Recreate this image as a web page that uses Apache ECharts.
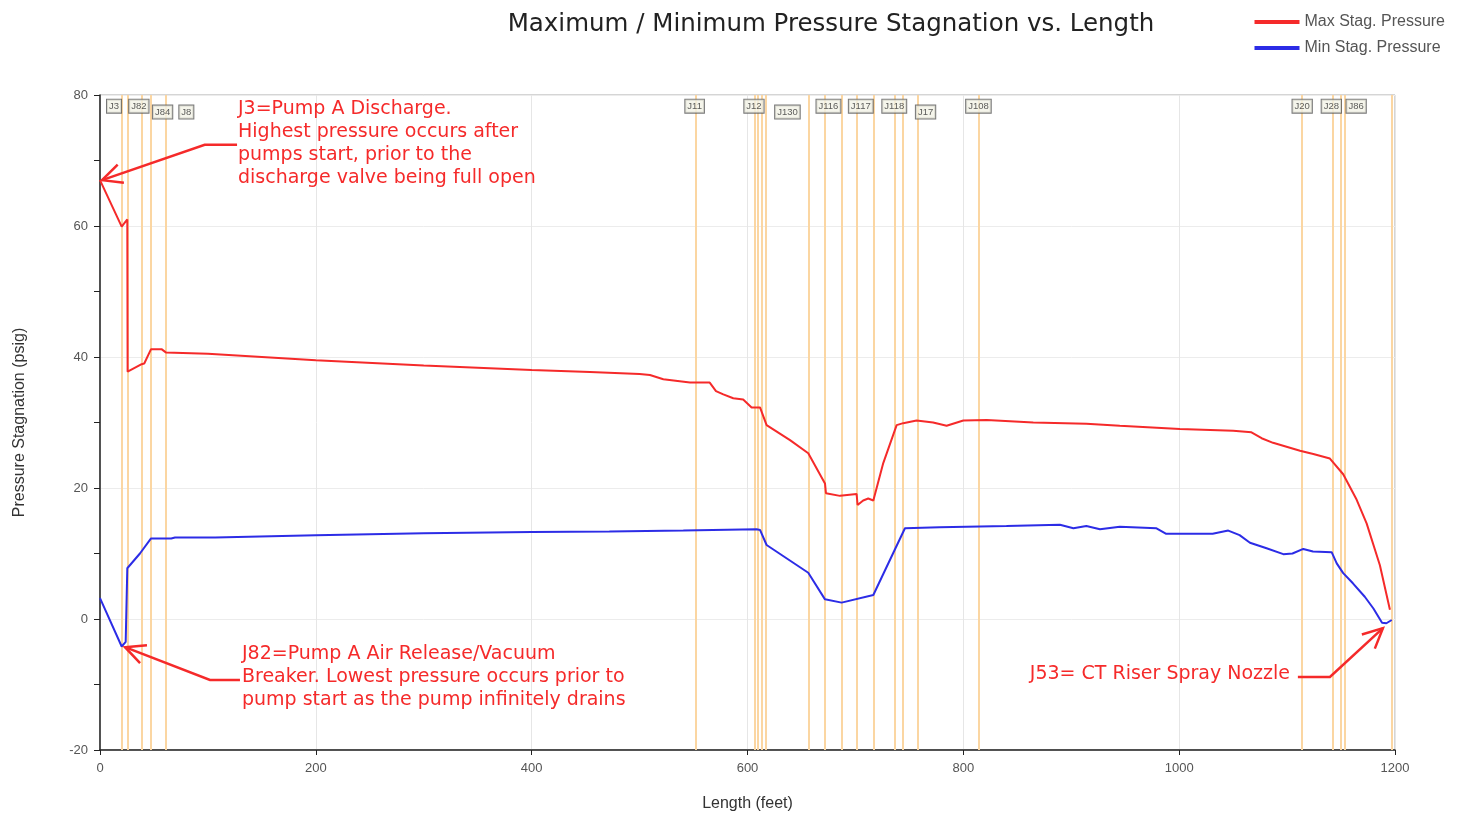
<html>
<head>
    <meta charset="utf-8">
</head>
<body style="margin: 0; background: #fff">
    <div id="container" style="width: 1468px; height: 818px"></div>
    <script src="https://cdn.jsdelivr.net/npm/echarts@6/dist/echarts.min.js"></script>
    <script type="text/javascript">
        // Max stagnation pressure (length ft, psig)
        var maxLen = [0, 20.1, 25.3, 25.6, 38.6, 41, 47.3, 57, 61, 100, 200, 300, 400, 454, 500, 509.6, 522, 546.7,
            565, 570.8, 577.6, 586.8, 596, 603.8, 611.6, 617.7, 639.4, 656.3, 671.8, 672.7, 685.7, 701.1, 702,
            707.2, 711.9, 716.6, 725.8, 738.2, 744.3, 756.7, 772, 784.5, 800, 821.6, 864.8, 914, 945, 1000.7,
            1050, 1067, 1076.4, 1087, 1112, 1124.3, 1139.7, 1152, 1164.5, 1173.7, 1186, 1195.3];
        var maxP = [67.0, 59.9, 61.0, 37.75, 38.9, 39.0, 41.2, 41.2, 40.7, 40.5, 39.5, 38.7, 38.0, 37.7, 37.4, 37.25,
            36.6, 36.1, 36.1, 34.8, 34.3, 33.7, 33.5, 32.3, 32.3, 29.6, 27.3, 25.3, 20.7, 19.2, 18.8, 19.1, 17.4,
            18.1, 18.4, 18.1, 23.8, 29.6, 29.9, 30.3, 30.0, 29.5, 30.3, 30.4, 30.0, 29.8, 29.5, 29.0,
            28.75, 28.5, 27.6, 26.9, 25.7, 25.2, 24.5, 22.1, 18.2, 14.6, 8.2, 1.4];

        // Min stagnation pressure
        var minLen = [0, 20.1, 23.8, 25.3, 37, 47.3, 66, 69.5, 106.6, 200, 300, 400, 472, 540.5, 608.5, 611.6,
            617.7, 656.3, 671.8, 687.2, 716.6, 745.9, 778, 840, 889.5, 902, 914, 926.6, 945, 979, 988, 1031,
            1045.5, 1056, 1065.6, 1081, 1096.5, 1105, 1115, 1124, 1141.3, 1146, 1152, 1161, 1172, 1180, 1188,
            1192, 1197];
        var minP = [3.2, -4.2, -3.5, 7.75, 10.0, 12.3, 12.3, 12.45, 12.45, 12.8, 13.1, 13.3, 13.35, 13.5, 13.7, 13.6,
            11.3, 7.06, 3.0, 2.5, 3.66, 13.85, 14.0, 14.2, 14.4, 13.85, 14.2, 13.7, 14.1, 13.85, 13.0, 13.0,
            13.5, 12.8, 11.65, 10.8, 9.9, 10.0, 10.7, 10.3, 10.2, 8.5, 7.0, 5.45, 3.4, 1.6, -0.56,
            -0.65, -0.15];

        // junction marker lines
        var junctionLines = [20.1, 25.3, 38.6, 47.3, 61.2, 552.3, 606.3, 609.7, 613.1, 616.9, 657.1, 671.9, 687.3,
            701.2, 716.9, 736.7, 744.3, 758.2, 814.5, 1113.5, 1141.9, 1149.6, 1153.6, 1196.9];

        // junction name tags: name, position, row (0 = upper, 1 = lower)
        var tagNames = ['J3', 'J82', 'J84', 'J8', 'J11', 'J12', 'J130', 'J116', 'J117', 'J118', 'J17', 'J108', 'J20', 'J28', 'J86'];
        var tagLen = [13, 36, 58, 80, 551, 606, 637, 675, 705, 736, 765, 814, 1114, 1141, 1164];
        var tagRow = [0, 0, 1, 1, 0, 0, 1, 0, 0, 0, 1, 0, 0, 0, 0];

        var chartDom = document.getElementById('container');
        var myChart = echarts.init(chartDom);
        var font = '"Liberation Sans", Arial, sans-serif';
        var wide = '"DejaVu Sans", Verdana, sans-serif';
        var red = '#f52a2a';
        var blue = '#2c2ce6';

        function pairs(xs, ys) {
            return xs.map(function (x, i) { return [x, ys[i]]; });
        }

        var tagData = tagNames.map(function (n, i) {
            return [tagLen[i], tagRow[i] ? 77.4 : 78.3, n];
        });

        var option = {
            backgroundColor: '#fff',
            animation: false,
            textStyle: { fontFamily: font },
            title: {
                text: 'Maximum / Minimum Pressure Stagnation vs. Length',
                left: 826,
                textAlign: 'center',
                top: 7,
                textStyle: { fontSize: 24.5, fontWeight: 'normal', color: '#222', fontFamily: wide }
            },
            legend: {
                orient: 'vertical',
                right: 18,
                top: 9,
                itemWidth: 45,
                itemHeight: 4,
                itemGap: 10,
                icon: 'rect',
                textStyle: { fontSize: 16, color: '#555', fontFamily: font },
                data: ['Max Stag. Pressure', 'Min Stag. Pressure']
            },
            grid: {
                left: 100,
                right: 73,
                top: 95,
                bottom: 68,
                show: true,
                borderColor: '#aaa',
                borderWidth: 1
            },
            xAxis: {
                type: 'value',
                min: 0,
                max: 1200,
                interval: 200,
                name: 'Length (feet)',
                nameLocation: 'middle',
                nameGap: 46,
                nameTextStyle: { fontSize: 16, color: '#333' },
                axisLine: { onZero: false, lineStyle: { color: '#222', width: 1.5 } },
                axisTick: { show: true, length: 5, lineStyle: { color: '#222' } },
                axisLabel: { fontSize: 13, color: '#555', margin: 12, formatter: function (v) { return String(v); } },
                splitLine: { show: true, lineStyle: { color: '#e6e6e6' } }
            },
            yAxis: {
                type: 'value',
                min: -20,
                max: 80,
                interval: 20,
                name: 'Pressure Stagnation (psig)',
                nameLocation: 'middle',
                nameGap: 72,
                nameTextStyle: { fontSize: 16, color: '#333' },
                axisLine: { show: true, lineStyle: { color: '#222', width: 1.5 } },
                axisTick: { show: true, length: 6, lineStyle: { color: '#222' } },
                minorTick: { show: true, splitNumber: 2, length: 6, lineStyle: { color: '#222' } },
                axisLabel: { fontSize: 13, color: '#555', margin: 12 },
                splitLine: { show: true, lineStyle: { color: '#ececec' } }
            },
            series: [{
                name: 'junctions',
                type: 'line',
                data: [],
                z: 1,
                silent: true,
                markLine: {
                    z: 1,
                    silent: true,
                    symbol: 'none',
                    label: { show: false },
                    lineStyle: { color: '#fbd6a2', width: 2, type: 'solid' },
                    data: junctionLines.map(function (x) { return { xAxis: x }; })
                }
            }, {
                name: 'Max Stag. Pressure',
                type: 'line',
                data: pairs(maxLen, maxP),
                showSymbol: false,
                z: 3,
                lineStyle: { color: red, width: 2 },
                itemStyle: { color: red }
            }, {
                name: 'Min Stag. Pressure',
                type: 'line',
                data: pairs(minLen, minP),
                showSymbol: false,
                z: 3,
                lineStyle: { color: blue, width: 2 },
                itemStyle: { color: blue }
            }, {
                name: 'tags',
                type: 'scatter',
                data: tagData,
                symbolSize: 0,
                silent: true,
                z: 10,
                label: {
                    show: true,
                    position: 'inside',
                    formatter: function (p) { return p.data[2]; },
                    fontSize: 9.5,
                    color: '#333',
                    backgroundColor: '#f3f3e6',
                    borderColor: '#555',
                    borderWidth: 1,
                    padding: [2, 2, 1, 2]
                }
            }]
        };

        myChart.setOption(option);

        // annotation arrows, given in data coordinates (first point = tail, last = tip)
        var arrows = [
            [[127, 72.4], [97, 72.4], [1.9, 67.0]],
            [[129.7, -9.3], [101.9, -9.3], [23.2, -4.3]],
            [[1110, -8.85], [1139.7, -8.85], [1188.8, -1.4]]
        ];
        var g = [];
        arrows.forEach(function (a) {
            var pts = a.map(function (p) { return myChart.convertToPixel({ gridIndex: 0 }, p); });
            g.push({
                type: 'polyline', shape: { points: pts }, z: 10,
                style: { stroke: red, lineWidth: 2.5, fill: null }
            });
            var tip = pts[pts.length - 1], prev = pts[pts.length - 2];
            var ang = Math.atan2(prev[1] - tip[1], prev[0] - tip[0]);
            var L = 22, s = 0.45;
            g.push({
                type: 'polyline', z: 10,
                shape: {
                    points: [
                        [tip[0] + L * Math.cos(ang + s), tip[1] + L * Math.sin(ang + s)],
                        tip,
                        [tip[0] + L * Math.cos(ang - s), tip[1] + L * Math.sin(ang - s)]
                    ]
                },
                style: { stroke: red, lineWidth: 2.5, fill: null }
            });
        });

        var noteStyle = { fill: red, fontSize: 19, fontFamily: wide, lineHeight: 23 };
        g.push({
            type: 'text', left: 238, top: 98, z: 10,
            style: Object.assign({ text: 'J3=Pump A Discharge.\nHighest pressure occurs after\npumps start, prior to the\ndischarge valve being full open' }, noteStyle)
        });
        g.push({
            type: 'text', left: 242, top: 643, z: 10,
            style: Object.assign({ text: 'J82=Pump A Air Release/Vacuum\nBreaker. Lowest pressure occurs prior to\npump start as the pump infinitely drains' }, noteStyle)
        });
        g.push({
            type: 'text', right: 178, top: 663, z: 10,
            style: Object.assign({ text: 'J53= CT Riser Spray Nozzle' }, noteStyle)
        });

        myChart.setOption({ graphic: g });
    </script>
</body>
</html>
